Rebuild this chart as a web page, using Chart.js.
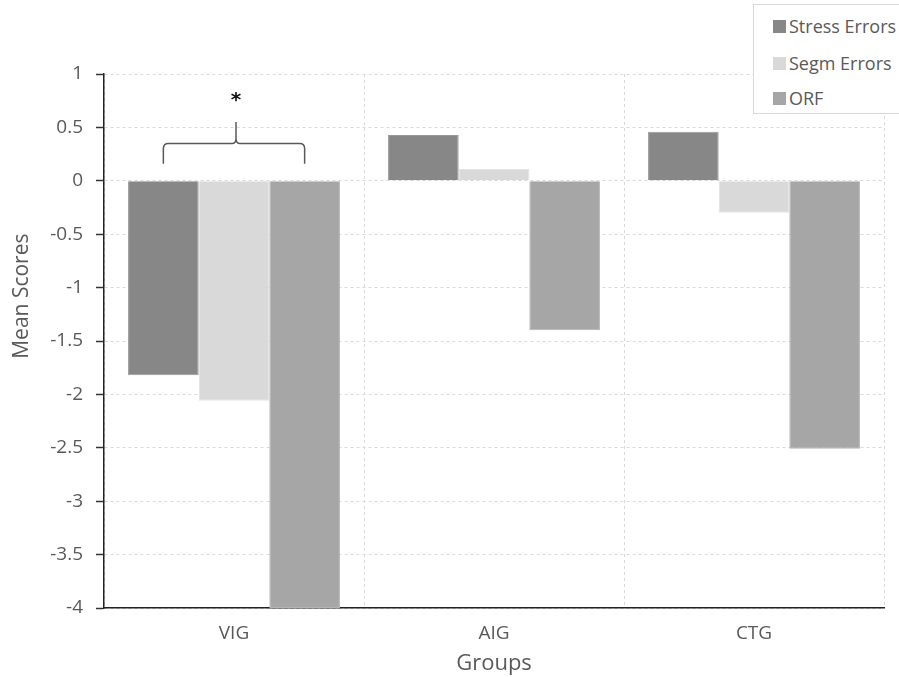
<!DOCTYPE html>
<html>
<head>
<meta charset="utf-8">
<script src="https://cdn.jsdelivr.net/npm/chart.js@4/dist/chart.umd.min.js"></script>
<style>
  html, body { margin: 0; padding: 0; background: #fff; }
  #wrap { position: relative; width: 899px; height: 677px; }
  #legend { position: absolute; left: 753px; top: 4px; width: 160px; height: 110px;
    border: 1px solid #d9d9d9; background: #fff; box-sizing: border-box;
    font-family: "Open Sans", sans-serif; font-size: 18px; color: #595959; }
  .li { position: absolute; left: 19px; display: flex; align-items: center; white-space: nowrap; line-height: 22px; }
  .sw { width: 13px; height: 13px; margin-right: 3px; }
</style>
</head>
<body>
<div id="wrap">
  <canvas id="c" width="899" height="677"></canvas>
  <div id="legend"></div>
</div>
<script>
const categories = ["VIG", "AIG", "CTG"];
const seriesNames = ["Stress Errors", "Segm Errors", "ORF"];
const stressErrors = [-1.82, 0.43, 0.46];
const segmErrors = [-2.06, 0.11, -0.30];
const orf = [-4.0, -1.40, -2.51];
const seriesColors = ["#878787", "#d9d9d9", "#a6a6a6"];
const seriesBorders = ["#999999", "#e2e2e2", "#b3b3b3"];
const yTicks = [1, 0.5, 0, -0.5, -1, -1.5, -2, -2.5, -3, -3.5, -4];
const yTitle = "Mean Scores";
const xTitle = "Groups";

const seriesValues = [stressErrors, segmErrors, orf];
const FONT = '"Open Sans", sans-serif';

// legend (HTML text)
const leg = document.getElementById('legend');
const legTops = [10, 47, 82];
seriesNames.forEach((n, i) => {
  const d = document.createElement('div');
  d.className = 'li';
  d.style.top = legTops[i] + 'px';
  d.innerHTML = '<span class="sw" style="background:' + seriesColors[i] + '"></span><span>' + n + '</span>';
  leg.appendChild(d);
});

const yTitlePlugin = {
  id: 'yTitle',
  afterDraw(chart) {
    const ctx = chart.ctx;
    const ys = chart.scales.y;
    ctx.save();
    ctx.translate(22, ys.getPixelForValue(-1.08));
    ctx.rotate(-Math.PI / 2);
    ctx.fillStyle = '#595959';
    ctx.font = '21px ' + FONT;
    ctx.textAlign = 'center';
    ctx.textBaseline = 'middle';
    ctx.fillText(yTitle, 0, 0);
    ctx.restore();
  }
};

const bracePlugin = {
  id: 'brace',
  afterDatasetsDraw(chart) {
    const ctx = chart.ctx;
    const xs = chart.scales.x, ys = chart.scales.y;
    const m0 = chart.getDatasetMeta(0).data[0];
    const m2 = chart.getDatasetMeta(2).data[0];
    const cx = xs.getPixelForValue(0) + 2;
    const left = m0.x;
    const right = m2.x;
    const yEnd = ys.getPixelForValue(0.16);
    const yMid = ys.getPixelForValue(0.35);
    const yPeak = ys.getPixelForValue(0.55);
    ctx.save();
    ctx.strokeStyle = '#595959';
    ctx.lineWidth = 1.5;
    ctx.beginPath();
    ctx.moveTo(left, yEnd);
    ctx.lineTo(left, yMid + 5);
    ctx.quadraticCurveTo(left, yMid, left + 5, yMid);
    ctx.lineTo(cx - 4, yMid);
    ctx.quadraticCurveTo(cx, yMid, cx, yMid - 5);
    ctx.lineTo(cx, yPeak);
    ctx.moveTo(cx, yMid - 5);
    ctx.quadraticCurveTo(cx, yMid, cx + 4, yMid);
    ctx.lineTo(right - 5, yMid);
    ctx.quadraticCurveTo(right, yMid, right, yMid + 5);
    ctx.lineTo(right, yEnd);
    ctx.stroke();
    ctx.fillStyle = '#111';
    ctx.font = 'bold 20px "DejaVu Sans", sans-serif';
    ctx.textAlign = 'center';
    ctx.textBaseline = 'middle';
    ctx.fillText('*', cx, ys.getPixelForValue(0.75));
    ctx.restore();
  }
};

new Chart(document.getElementById('c'), {
  type: 'bar',
  data: {
    labels: categories,
    datasets: seriesNames.map((n, i) => ({
      label: n,
      data: seriesValues[i],
      backgroundColor: seriesColors[i],
      borderColor: seriesBorders[i],
      borderWidth: 1,
      barPercentage: 1.0,
      categoryPercentage: 0.815
    }))
  },
  options: {
    responsive: false,
    animation: false,
    devicePixelRatio: 1,
    layout: { padding: { left: 0, right: 15, top: 74, bottom: 0 } },
    plugins: { legend: { display: false }, tooltip: { enabled: false } },
    scales: {
      x: {
        grid: { offset: true, color: '#d9d9d9', drawTicks: false, lineWidth: 1 },
        border: { display: true, color: '#222', width: 1.5, dash: [3, 3] },
        ticks: { color: '#595959', font: { family: FONT, size: 19 }, padding: 14 },
        title: { display: true, text: xTitle, color: '#595959', font: { family: FONT, size: 22 }, padding: { top: 0, bottom: 0 } },
        afterFit(s) { s.height = 69; }
      },
      y: {
        min: -4, max: 1,
        afterBuildTicks(s) { s.ticks = yTicks.map(v => ({ value: v })); },
        grid: { color: '#d9d9d9', tickColor: '#333', tickLength: 8, tickWidth: 1.5, lineWidth: 1 },
        border: { display: true, color: '#222', width: 1.5, dash: [3, 3] },
        ticks: { color: '#595959', font: { family: FONT, size: 19 }, padding: 13,
          callback: (v) => String(v) },
        title: { display: false },
        afterFit(s) { s.width = 104; }
      }
    }
  },
  plugins: [bracePlugin, yTitlePlugin]
});
</script>
</body>
</html>
